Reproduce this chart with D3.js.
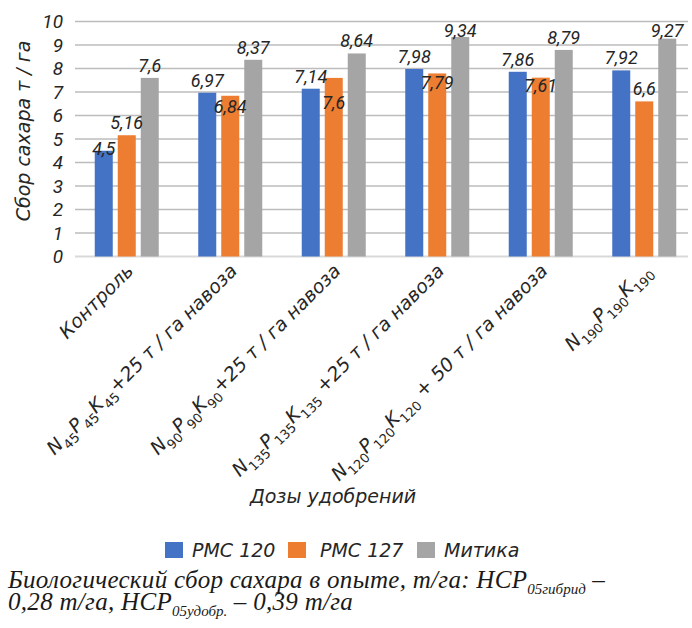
<!DOCTYPE html>
<html>
<head>
<meta charset="utf-8">
<script src="https://cdn.jsdelivr.net/npm/d3@7"></script>
<style>
  body { margin: 0; background: #fff; }
  svg { display: block; }
  text { fill: #262626; }
</style>
</head>
<body>
<div id="chart"></div>
<script>
(function() {
    // categories: each label is a list of [text, isSubscript] pieces
    const categories = [
        [["Контроль", 0]],
        [["N", 0], ["45", 1], ["P", 0], ["45", 1], ["K", 0], ["45", 1], ["+25 т / га навоза", 0]],
        [["N", 0], ["90", 1], ["P", 0], ["90", 1], ["K", 0], ["90", 1], ["+25 т / га навоза", 0]],
        [["N", 0], ["135", 1], ["P", 0], ["135", 1], ["K", 0], ["135", 1], [" +25 т / га навоза", 0]],
        [["N", 0], ["120", 1], ["P", 0], ["120", 1], ["K", 0], ["120", 1], [" + 50 т / га навоза", 0]],
        [["N", 0], ["190", 1], ["P", 0], ["190", 1], ["K", 0], ["190", 1]]
    ];
    const seriesNames = ["РМС 120", "РМС 127", "Митика"];
    const rmc120 = [4.5, 6.97, 7.14, 7.98, 7.86, 7.92];
    const rmc127 = [5.16, 6.84, 7.6, 7.79, 7.61, 6.6];
    const mitika = [7.6, 8.37, 8.64, 9.34, 8.79, 9.27];
    const yTicks = [0, 1, 2, 3, 4, 5, 6, 7, 8, 9, 10];
    // labels that Excel pushed below the neighbouring label: [category, series, neighbour series]
    const pushedLabels = [[0, 0, 1], [1, 1, 0], [2, 1, 0], [3, 1, 0], [4, 1, 0]];

    const series = [rmc120, rmc127, mitika];
    const colors = ["#4472c4", "#ed7d31", "#a5a5a5"];

    const width = 692;
    const height = 628;
    const sans = "'DejaVu Sans', sans-serif";
    const nums = "Roboto, 'DejaVu Sans', sans-serif";

    const svg = d3.select("#chart").append("svg")
        .attr("width", width)
        .attr("height", height);

    const x0 = d3.scaleBand()
        .domain(d3.range(categories.length))
        .range([75, 696])
        .paddingInner(0.3816)
        .paddingOuter(0.1908);

    const x1 = d3.scaleBand()
        .domain(d3.range(series.length))
        .range([0, x0.bandwidth()])
        .paddingInner(0.217);

    const y = d3.scaleLinear()
        .domain([0, 10])
        .range([256.5, 21.5]);

    // gridlines
    svg.append("g")
        .selectAll("line")
        .data(yTicks)
        .enter().append("line")
        .attr("x1", 75)
        .attr("x2", 688)
        .attr("y1", d => y(d))
        .attr("y2", d => y(d))
        .attr("stroke", d => d === 0 ? "#d9d9d9" : "#bdbdbd")
        .attr("stroke-width", d => d === 0 ? 2 : 1.5);

    // y tick labels
    svg.append("g")
        .selectAll("text")
        .data(yTicks)
        .enter().append("text")
        .attr("x", 63)
        .attr("y", d => y(d) + 6.5)
        .attr("text-anchor", "end")
        .style("font-family", nums)
        .style("font-style", "italic")
        .style("font-size", "19px")
        .text(d => d);

    // bars
    const groups = svg.append("g")
        .selectAll("g")
        .data(categories)
        .enter().append("g")
        .attr("transform", (d, i) => `translate(${x0(i)},0)`);

    groups.selectAll("rect")
        .data((d, i) => series.map((s, j) => ({ s: j, v: s[i] })))
        .enter().append("rect")
        .attr("x", d => x1(d.s))
        .attr("y", d => y(d.v))
        .attr("width", x1.bandwidth())
        .attr("height", d => y(0) - y(d.v))
        .attr("fill", d => colors[d.s]);

    // value labels
    function baseY(i, j) {
        // normal: just above the bar, kept inside the plot area
        return Math.max(y(series[j][i]) - 6, y(10) + 15);
    }
    function labelY(i, j) {
        const p = pushedLabels.find(q => q[0] === i && q[1] === j);
        return p ? baseY(i, p[2]) + 26 : baseY(i, j);
    }
    groups.selectAll("text.val")
        .data((d, i) => series.map((s, j) => ({ c: i, s: j, v: s[i] })))
        .enter().append("text")
        .attr("class", "val")
        .attr("x", d => x1(d.s) + x1.bandwidth() / 2)
        .attr("y", d => labelY(d.c, d.s))
        .attr("text-anchor", "middle")
        .style("font-family", nums)
        .style("font-style", "italic")
        .style("font-size", "18px")
        .text(d => String(d.v).replace(".", ","));

    // category labels, rotated
    const catLabels = svg.append("g")
        .selectAll("text")
        .data(categories)
        .enter().append("text")
        .attr("transform", (d, i) => `translate(${x0(i) + x0.bandwidth() / 2 + 8},272) rotate(-45)`)
        .attr("text-anchor", "end")
        .style("font-family", sans)
        .style("font-style", "italic")
        .style("font-size", "19px");

    catLabels.each(function(d) {
        const t = d3.select(this);
        let shift = 0;
        d.forEach(part => {
            const want = part[1] ? 6 : 0;
            t.append("tspan")
                .attr("dy", want - shift)
                .style("font-size", part[1] ? "13px" : null)
                .style("font-style", part[1] ? "normal" : null)
                .text(part[0]);
            shift = want;
        });
    });

    // axis titles
    svg.append("text")
        .attr("transform", "translate(30,131) rotate(-90)")
        .attr("text-anchor", "middle")
        .style("font-family", sans)
        .style("font-style", "italic")
        .style("font-size", "19px")
        .text("Сбор сахара т / га");

    svg.append("text")
        .attr("x", 333)
        .attr("y", 503)
        .attr("text-anchor", "middle")
        .style("font-family", sans)
        .style("font-style", "italic")
        .style("font-size", "19px")
        .text("Дозы удобрений");

    // legend
    const legendX = [165, 288, 417];
    const legend = svg.append("g")
        .selectAll("g")
        .data(seriesNames)
        .enter().append("g")
        .attr("transform", (d, i) => `translate(${legendX[i]},542)`);
    legend.append("rect")
        .attr("width", 18)
        .attr("height", 16)
        .attr("fill", (d, i) => colors[i]);
    legend.append("text")
        .attr("x", (d, i) => i === 1 ? 32 : 27)
        .attr("y", 15)
        .style("font-family", sans)
        .style("font-style", "italic")
        .style("font-size", "19px")
        .text(d => d);

    // caption
    const serif = "'Liberation Serif', 'Times New Roman', serif";
    function caption(yPos) {
        return svg.append("text")
            .attr("x", 8)
            .attr("y", yPos)
            .style("font-family", serif)
            .style("font-style", "italic")
            .style("font-size", "25px")
            .style("letter-spacing", "0.3px")
            .style("fill", "#1a1a1a");
    }
    const cap1 = caption(588);
    cap1.append("tspan").text("Биологический сбор сахара в опыте, т/га: НСР");
    cap1.append("tspan").attr("dy", 6).style("font-size", "15px").style("letter-spacing", "0").text("05гибрид");
    cap1.append("tspan").attr("dy", -6).text(" –");

    const cap2 = caption(610);
    cap2.append("tspan").text("0,28 т/га, НСР");
    cap2.append("tspan").attr("dy", 6).style("font-size", "15px").style("letter-spacing", "0").text("05удобр.");
    cap2.append("tspan").attr("dy", -6).text(" – 0,39 т/га");
})();
</script>
</body>
</html>
